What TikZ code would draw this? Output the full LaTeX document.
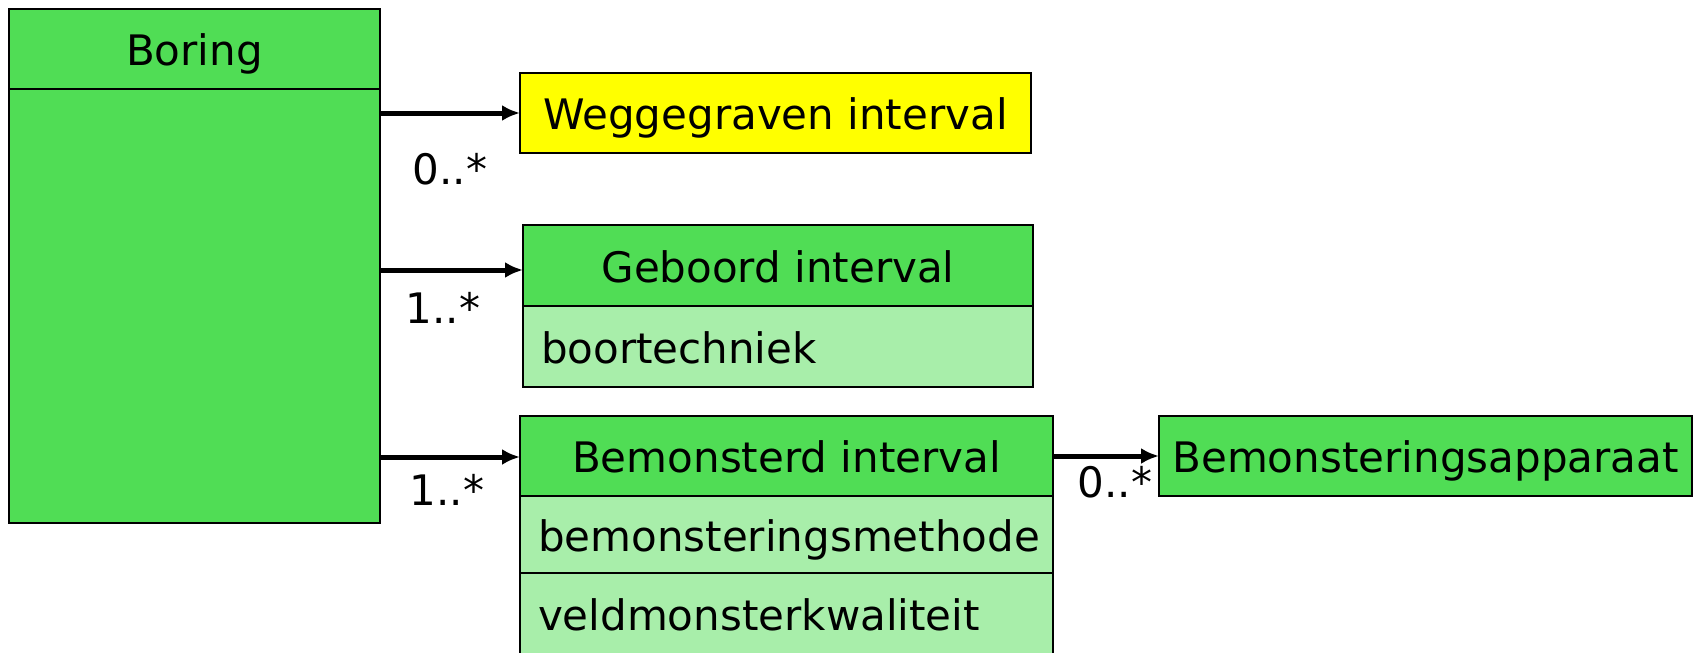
\documentclass[tikz,border=0pt]{standalone}
\usepackage{fontspec}
\setmainfont{DejaVu Sans}
\usetikzlibrary{shapes,arrows.meta}
\definecolor{kopgroen}{RGB}{80,221,85}
\definecolor{attrgroen}{RGB}{168,238,170}
\definecolor{geel}{RGB}{255,255,0}
\tikzstyle{kop} = [draw, rectangle, fill=kopgroen, line width=1pt,
    anchor=north west, inner sep=0pt, outer sep=0pt,
    text height=17.85pt, text depth=1.05pt]
\tikzstyle{attr} = [kop, fill=attrgroen, align=left, inner xsep=9pt]
\tikzstyle{pijl} = [-{Latex[length=9pt,width=8pt]}, line width=2.5pt]
\tikzstyle{mult} = [inner sep=0pt]

\begin{document}
\begin{tikzpicture}[x=0.5pt, y=-0.5pt, font=\fontsize{21}{25}\selectfont]
    \useasboundingbox (0,0) rectangle (1693,653);
    % We start by placing the classes
    \node [kop, minimum width=185.5pt, minimum height=40pt] (boring) at (9,9) {Boring};
    \node [kop, minimum width=185.5pt, minimum height=217pt] (boringbody) at (9,89) {};
    \node [kop, fill=geel, minimum width=255.5pt,
            minimum height=40pt] (weg) at (520,73) {Weggegraven interval};
    \node [kop, minimum width=255pt, minimum height=40.5pt] (geboord) at (523,225) {Geboord interval};
    \node [attr, text width=237pt, minimum height=40.5pt] (techniek) at (523,306) {boortechniek};
    \node [kop, minimum width=266.5pt, minimum height=40pt] (bemonsterd) at (520,416) {Bemonsterd interval};
    \node [attr, text width=248.5pt, minimum height=38.5pt] (methode) at (520,496) {bemonsteringsmethode};
    \node [attr, text width=248.5pt, minimum height=41pt] (kwaliteit) at (520,573) {veldmonsterkwaliteit};
    \node [kop, minimum width=266.5pt, minimum height=40pt] (apparaat) at (1159,416) {Bemonsteringsapparaat};

    % The arrow ends sit a little off the middle of the headers
    \coordinate (geboordin) at ([yshift=-2.25pt]geboord.west);
    \coordinate (bemonsterdin) at ([yshift=-0.5pt]bemonsterd.west);

    % Once the classes are placed, the associations follow
    \draw [pijl] (boringbody.east |- weg.west) -- node [mult, yshift=-28pt] {0..*} (weg.west);
    \draw [pijl] (boringbody.east |- geboordin) --
        node [mult, xshift=-4.25pt, yshift=-19pt] {1..*} (geboordin);
    \draw [pijl] (boringbody.east |- bemonsterdin) --
        node [mult, xshift=-1.5pt, yshift=-16.5pt] {1..*} (bemonsterdin);
    \draw [pijl] (bemonsterd.east) -- node [mult, xshift=4.5pt, yshift=-13pt] {0..*} (apparaat.west);
\end{tikzpicture}
\end{document}
